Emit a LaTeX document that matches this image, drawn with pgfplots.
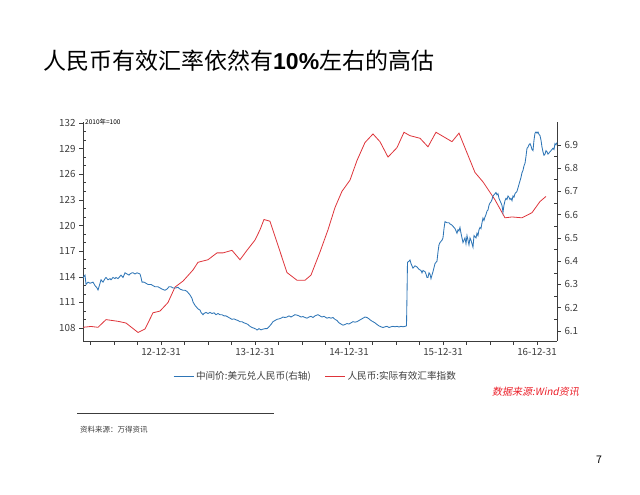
\documentclass[border=0pt]{standalone}
\usepackage{fontspec}
\usepackage{pgfplots}
\pgfplotsset{compat=1.18}
\setmainfont{Noto Sans CJK SC}
\newfontfamily\arialfont{Liberation Sans}
\newfontfamily\slcjk[FakeSlant=0.2]{Noto Sans CJK SC}
\definecolor{cnyblue}{RGB}{46,117,182}
\definecolor{reerred}{RGB}{222,52,58}
\definecolor{axgray}{RGB}{60,60,60}
\definecolor{srcred}{RGB}{235,30,40}

\pgfplotstableread{
px val
83 108.1
91 108.2
98 108.1
106 109.0
118 108.8
126 108.6
138 107.5
145 107.9
153 109.8
160 110.0
168 111.0
175 112.8
183 113.5
193 114.8
198 115.7
208 116.0
217 116.8
223 116.8
232 117.1
240 116.0
247 117.1
255 118.3
260 119.5
264 120.7
270 120.5
287 114.5
297 113.6
305 113.6
311 114.2
320 116.9
328 119.5
335 122.1
342 124.0
350 125.3
357 127.6
365 129.7
373 130.7
380 129.8
388 128.0
397 129.1
404 130.9
410 130.5
420 130.2
428 129.2
436 130.9
452 129.8
459 130.8
467 128.5
475 126.2
483 125.1
495 123.0
505 120.9
512 121.0
522 120.9
532 121.5
540 122.8
546 123.4
}\reer

\pgfplotstableread{
px val
83 6.327
84 6.335
85 6.34
86 6.30
88 6.31
90 6.305
93 6.31
95 6.295
97 6.285
98 6.276
99 6.29
101 6.32
103 6.31
105 6.325
106 6.33
108 6.32
110 6.325
111 6.32
113 6.33
115 6.325
116 6.33
118 6.325
120 6.335
121 6.34
123 6.33
125 6.35
127 6.345
129 6.34
130 6.345
132 6.35
133 6.35
135 6.345
137 6.35
140 6.345
141 6.33
142 6.31
144 6.31
146 6.305
148 6.30
151 6.30
153 6.295
155 6.29
158 6.29
160 6.285
162 6.28
165 6.275
167 6.28
169 6.29
171 6.29
173 6.285
176 6.285
178 6.288
180 6.28
183 6.275
185 6.275
187 6.27
189 6.26
190 6.255
192 6.24
193 6.225
195 6.21
197 6.20
198 6.195
200 6.19
201 6.18
203 6.17
204 6.175
206 6.18
208 6.175
210 6.18
212 6.175
214 6.178
216 6.17
218 6.175
220 6.17
222 6.17
224 6.165
226 6.165
228 6.16
230 6.155
232 6.15
234 6.152
236 6.148
238 6.145
240 6.14
242 6.14
244 6.135
246 6.132
248 6.128
250 6.12
252 6.115
254 6.112
256 6.108
257 6.104
259 6.11
261 6.105
263 6.108
265 6.11
267 6.11
269 6.118
271 6.128
273 6.14
275 6.145
277 6.15
279 6.152
281 6.155
283 6.16
285 6.158
287 6.16
289 6.165
291 6.16
293 6.165
295 6.17
297 6.168
299 6.165
301 6.16
303 6.162
305 6.158
307 6.155
309 6.16
311 6.163
313 6.158
315 6.165
318 6.17
320 6.165
322 6.16
324 6.163
327 6.155
329 6.158
331 6.155
333 6.158
335 6.15
337 6.145
339 6.135
341 6.13
343 6.125
345 6.128
347 6.132
349 6.13
351 6.135
353 6.14
355 6.138
357 6.14
359 6.145
361 6.15
363 6.155
365 6.16
367 6.158
369 6.152
371 6.145
373 6.14
375 6.135
377 6.128
379 6.122
381 6.118
383 6.115
385 6.118
387 6.12
389 6.115
391 6.118
393 6.12
395 6.118
397 6.12
399 6.117
401 6.12
403 6.118
405 6.12
406.5 6.122
407 6.25
407.5 6.395
409 6.40
410 6.405
411 6.39
413 6.37
415 6.38
417 6.375
419 6.365
421 6.36
422 6.35
423 6.36
425 6.355
426 6.345
427 6.33
428 6.33
429 6.35
430 6.345
431 6.325
432 6.34
433 6.355
435 6.39
437 6.40
438 6.44
439 6.47
440 6.48
442 6.49
443 6.50
444 6.54
445 6.57
447 6.565
449 6.565
450 6.56
452 6.555
454 6.545
455 6.54
456 6.53
457 6.52
458 6.535
459 6.53
460 6.545
461 6.52
462 6.50
463 6.48
465 6.50
466 6.475
467 6.51
469 6.47
470 6.50
471 6.49
473 6.46
474 6.51
476 6.50
477 6.52
478 6.51
479 6.535
480 6.545
481 6.54
482 6.565
483 6.585
484 6.575
485 6.59
486 6.60
487 6.615
488 6.62
489 6.64
490 6.65
491 6.655
492 6.665
493 6.68
494 6.685
495 6.69
496 6.695
497 6.685
498 6.69
499 6.67
500 6.66
501 6.65
502 6.64
503 6.61
504 6.64
505 6.66
506 6.67
507 6.665
508 6.68
509 6.675
510 6.665
511 6.67
512 6.66
513 6.68
514 6.675
515 6.69
516 6.695
517 6.70
518 6.715
519 6.73
520 6.745
521 6.76
522 6.78
523 6.79
524 6.81
525 6.82
526 6.85
527 6.885
528 6.89
529 6.90
530 6.905
531 6.895
532 6.88
533 6.875
534 6.92
535 6.95
536 6.955
537 6.95
538 6.955
539 6.945
540 6.94
541 6.92
542 6.89
543 6.87
544 6.855
545 6.86
546 6.875
547 6.87
548 6.86
549 6.865
550 6.87
551 6.875
552 6.88
553 6.885
554 6.88
555 6.905
556 6.90
557 6.91
}\cny

\begin{document}
\begin{tikzpicture}[x=1pt,y=1pt]
\path[use as bounding box] (0,0) rectangle (640,495);

\node[anchor=west, inner sep=0pt, font=\fontsize{23}{24}\selectfont] at (43,434)
  {人民币有效汇率依然有{\arialfont\bfseries 10\%}左右的高估};

\pgfplotsset{
  base/.style={
    at={(83pt,154pt)}, anchor=south west, scale only axis,
    width=474pt, height=219pt,
    xmin=2012.1702, xmax=2017.2128,
    x filter/.expression={2013+(x-161)/94},
    axis line style={axgray, line width=0.6pt, -},
    tick style={axgray, line width=0.6pt},
    tick align=outside,
    major tick length=4pt,
    minor tick length=-3pt,
    tick label style={font=\fontsize{9.8}{11}\selectfont, text=axgray},
    /pgf/number format/assume math mode=true,
    clip=false,
  }
}

\begin{axis}[base,
  ymin=106.5, ymax=132.1,
  axis y line*=left, axis x line*=bottom,
  xtick={2013,2014,2015,2016,2017},
  xticklabels={12-12-31,13-12-31,14-12-31,15-12-31,16-12-31},
  extra x ticks={2012.25,2012.5,2012.75,2013.25,2013.5,2013.75,2014.25,2014.5,2014.75,2015.25,2015.5,2015.75,2016.25,2016.5,2016.75},
  extra x tick labels={},
  ytick={108,111,114,117,120,123,126,129,132},
  minor y tick num=2,
  legend style={at={(0.4905,-0.16)}, anchor=center, draw=none, fill=none,
     legend columns=2, font=\fontsize{9.6}{11}\selectfont, text=axgray,
     /tikz/every even column/.append style={column sep=12pt},
     legend cell align=left},
  legend image code/.code={\draw[#1] (0pt,0pt) -- (20pt,0pt);},
]
\addlegendimage{cnyblue, line width=0.9pt}
\addlegendentry{中间价:美元兑人民币(右轴)}
\addplot[reerred, line width=0.8pt] table[x=px, y=val] {\reer};
\addlegendentry{人民币:实际有效汇率指数}
\end{axis}

\begin{axis}[base,
  ymin=6.057, ymax=6.998,
  axis y line*=right, axis x line=none,
  ytick={6.1,6.2,6.3,6.4,6.5,6.6,6.7,6.8,6.9},
  yticklabel style={/pgf/number format/.cd, fixed, fixed zerofill, precision=1},
  minor y tick num=1,
]
\addplot[cnyblue, line width=0.85pt] table[x=px, y=val] {\cny};
\end{axis}

\node[anchor=west, inner sep=0pt, font=\fontsize{6.5}{7}\selectfont] at (85,373) {2010年=100};

\node[anchor=east, inner sep=0pt, text=srcred, font=\slcjk\fontsize{10}{11}\selectfont] at (579,103) {数据来源:Wind资讯};

\draw[axgray, line width=0.7pt] (77,82) -- (274,82);
\node[anchor=west, inner sep=0pt, text=axgray, font=\fontsize{7.5}{8}\selectfont] at (80,65) {资料来源：万得资讯};

\node[inner sep=0pt, font=\fontsize{10.5}{11}\selectfont] at (599,35) {7};
\end{tikzpicture}
\end{document}
